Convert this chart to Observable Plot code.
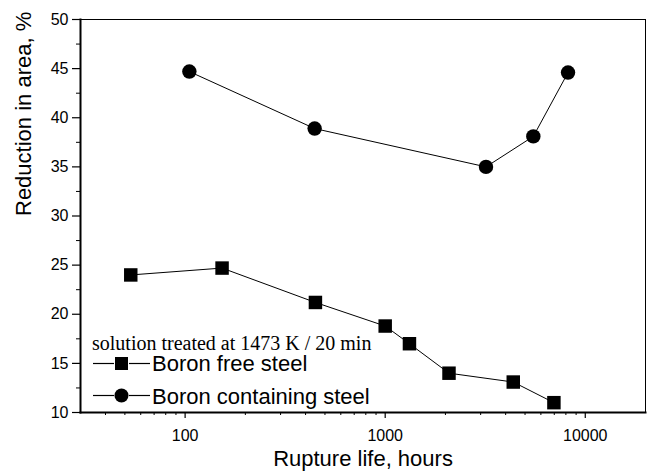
<!DOCTYPE html>
<html>
<head>
<meta charset="utf-8">
<script src="https://cdn.jsdelivr.net/npm/d3@7"></script>
<script src="https://cdn.jsdelivr.net/npm/@observablehq/plot@0.6"></script>
<style>
  html, body { margin: 0; padding: 0; background: #fff; }
  #chart { width: 647px; height: 475px; }
</style>
</head>
<body>
<div id="chart"></div>
<script>
// ---- data ----
const freeHours = [53.5, 153, 448, 1000, 1322, 2084, 4366, 6970];
const freeRA    = [24.0, 24.7, 21.2, 18.8, 17.0, 14.0, 13.1, 11.0];
const containHours = [105, 444, 3190, 5500, 8200];
const containRA    = [44.7, 38.9, 35.0, 38.1, 44.6];

const seriesNames = ["Boron free steel", "Boron containing steel"];
const noteText = "solution treated at 1473 K / 20 min";
const xTitle = "Rupture life, hours";
const yTitle = "Reduction in area, %";

const xMajorTicks = [100, 1000, 10000];
const xMinorTicks = [40, 50, 60, 70, 80, 90, 200, 300, 400, 500, 600, 700, 800, 900,
                     2000, 3000, 4000, 5000, 6000, 7000, 8000, 9000];
const yMajorTicks = [10, 15, 20, 25, 30, 35, 40, 45, 50];
const yMinorTicks = [12.5, 17.5, 22.5, 27.5, 32.5, 37.5, 42.5, 47.5];

const free = freeHours.map((h, i) => ({h, ra: freeRA[i]}));
const contain = containHours.map((h, i) => ({h, ra: containRA[i]}));

const sans = "'Liberation Sans', Arial, Helvetica, sans-serif";

const chart = Plot.plot({
  width: 647,
  height: 475,
  marginLeft: 80,
  marginRight: 2,
  marginTop: 19,
  marginBottom: 63,
  style: {fontFamily: sans, background: "#fff", color: "#000"},
  x: {type: "log", domain: [30, 20000], label: null},
  y: {domain: [10, 50], label: null},
  marks: [
    Plot.frame({stroke: "#000", strokeWidth: 1}),
    Plot.frame({anchor: "left", stroke: "#000", strokeWidth: 2}),
    Plot.frame({anchor: "bottom", stroke: "#000", strokeWidth: 2}),
    Plot.axisX({ticks: xMajorTicks, tickSize: 6, tickPadding: 11, fontSize: 16,
                tickFormat: d => String(d), label: null, strokeWidth: 1.2}),
    Plot.axisX({ticks: xMinorTicks, tickSize: 3, tickFormat: () => "", label: null}),
    Plot.axisY({ticks: yMajorTicks, tickSize: 8, tickPadding: 4, fontSize: 16,
                tickFormat: d => String(d), label: null, strokeWidth: 1.2}),
    Plot.axisY({ticks: yMinorTicks, tickSize: 4, tickFormat: () => "", label: null}),
    Plot.text([xTitle], {frameAnchor: "bottom", dy: 53, fontSize: 22, fill: "#000"}),
    Plot.text([yTitle], {frameAnchor: "left", dx: -57, rotate: -90, fontSize: 22, fill: "#000"}),
    Plot.line(free, {x: "h", y: "ra", stroke: "#000", strokeWidth: 1}),
    Plot.line(contain, {x: "h", y: "ra", stroke: "#000", strokeWidth: 1}),
    Plot.dot(free, {x: "h", y: "ra", symbol: "square", r: 7.6, fill: "#000", stroke: "none"}),
    Plot.dot(contain, {x: "h", y: "ra", symbol: "circle", r: 7.2, fill: "#000", stroke: "none"})
  ]
});

document.getElementById("chart").appendChild(chart);

// ---- legend block (inside the plot frame, lower-left) ----
const svg = d3.select(chart);
const leg = svg.append("g").attr("class", "legend").attr("text-anchor", "start");
leg.append("text")
  .attr("x", 92).attr("y", 350)
  .attr("text-anchor", "start")
  .attr("font-family", "'Liberation Serif', 'Times New Roman', serif")
  .attr("font-size", 20).attr("fill", "#000")
  .text(noteText);

const rows = [
  {name: seriesNames[0], cy: 363.5, base: 371, sym: "square"},
  {name: seriesNames[1], cy: 395.5, base: 403.5, sym: "circle"}
];
rows.forEach(r => {
  leg.append("line").attr("x1", 93).attr("x2", 114).attr("y1", r.cy).attr("y2", r.cy)
    .attr("stroke", "#000").attr("stroke-width", 1.2);
  leg.append("line").attr("x1", 129).attr("x2", 150).attr("y1", r.cy).attr("y2", r.cy)
    .attr("stroke", "#000").attr("stroke-width", 1.2);
  if (r.sym === "square") {
    leg.append("rect").attr("x", 115).attr("y", r.cy - 6.5).attr("width", 13).attr("height", 13).attr("fill", "#000");
  } else {
    leg.append("circle").attr("cx", 121.5).attr("cy", r.cy).attr("r", 7).attr("fill", "#000");
  }
  leg.append("text").attr("x", 152).attr("y", r.base)
    .attr("text-anchor", "start")
    .attr("font-family", sans).attr("font-size", 22).attr("fill", "#000")
    .text(r.name);
});
</script>
</body>
</html>
